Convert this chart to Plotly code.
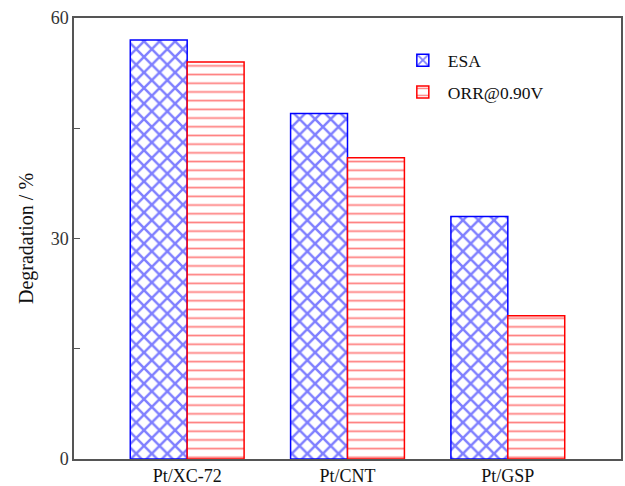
import plotly.graph_objects as go

categories = ["Pt/XC-72", "Pt/CNT", "Pt/GSP"]
esa_values = [57.0, 47.0, 33.0]
orr_values = [54.0, 41.0, 19.5]
series_names = ["ESA", "ORR@0.90V"]
y_tick_vals = [0, 30, 60]
y_tick_text = ["0", "30", "60"]

fig = go.Figure()
fig.add_trace(go.Bar(
    x=categories, y=esa_values, name=series_names[0], legendgroup="esa",
    marker=dict(color="white", line=dict(color="blue", width=1.5),
                pattern=dict(shape="x", fgcolor="blue", bgcolor="white", size=11, solidity=0.4)),
))
fig.add_trace(go.Bar(
    x=categories, y=orr_values, name=series_names[1], legendgroup="orr",
    marker=dict(color="white", line=dict(color="red", width=1.5),
                pattern=dict(shape="-", fgcolor="red", bgcolor="white", size=8.7, solidity=0.2)),
))

font_family = "Liberation Serif, Times New Roman, serif"
fig.update_layout(
    width=625, height=486,
    margin=dict(l=74, r=4, t=18, b=27),
    paper_bgcolor="white", plot_bgcolor="white",
    barmode="group", bargap=0.29, bargroupgap=0,
    font=dict(family=font_family, size=18, color="#111"),
    showlegend=True,
    legend=dict(x=0.592, y=0.945, xanchor="left", yanchor="top",
                bgcolor="rgba(0,0,0,0)", font=dict(size=17.5, color="#111"),
                tracegroupgap=6, itemwidth=40, traceorder="grouped"),
    xaxis=dict(range=[-0.706, 2.706], showline=True, linecolor="#555", linewidth=1.5,
               mirror=True, ticks="", showgrid=False, tickfont=dict(size=18, color="#111"),
               zeroline=False, automargin=False),
    yaxis=dict(range=[0, 60], tickvals=y_tick_vals, ticktext=y_tick_text,
               showline=True, linecolor="#555", linewidth=1.5, mirror=True,
               ticks="inside", ticklen=6, tickcolor="#555", showgrid=False, zeroline=False,
               minor=dict(tickvals=[15, 45], ticks="inside", ticklen=6, tickcolor="#555"),
               tickfont=dict(size=18, color="#333"), automargin=False,
               title=dict(text="Degradation / %", font=dict(size=20, color="#111"), standoff=12)),
)

fig.write_html("out.html", config={"displayModeBar": False},
               post_script="document.body.style.margin='0';document.body.style.overflow='hidden';")
